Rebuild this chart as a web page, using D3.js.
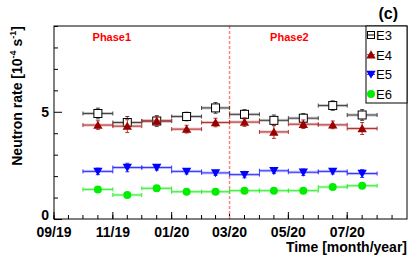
<!DOCTYPE html>
<html>
<head>
<meta charset="utf-8">
<script src="https://cdn.jsdelivr.net/npm/d3@7"></script>
<style>
  body { margin: 0; background: #fff; }
  text { font-family: "Liberation Sans", Arial, sans-serif; }
</style>
</head>
<body>
<svg id="chart" width="415" height="259"></svg>
<script>
// monthly bins, Oct 2019 .. Jul 2020 (bin start)
const months = ['2019-10', '2019-11', '2019-12', '2020-01', '2020-02',
                '2020-03', '2020-04', '2020-05', '2020-06', '2020-07'];

const e3 = [4.92, 4.50, 4.57, 4.78, 5.18, 4.88, 4.60, 4.70, 5.29, 4.85];
const e3Err = [0.25, 0.28, 0.25, 0.2, 0.25, 0.22, 0.25, 0.22, 0.22, 0.25];
const e4 = [4.38, 4.33, 4.57, 4.19, 4.50, 4.52, 4.06, 4.42, 4.39, 4.22];
const e4Err = [0.2, 0.3, 0.2, 0.18, 0.2, 0.2, 0.3, 0.2, 0.18, 0.28];
const e5 = [2.22, 2.40, 2.40, 2.22, 2.15, 2.07, 2.25, 2.18, 2.22, 2.12];
const e5Err = [0.15, 0.2, 0.12, 0.12, 0.12, 0.15, 0.12, 0.15, 0.12, 0.18];
const e6 = [1.38, 1.12, 1.43, 1.27, 1.27, 1.32, 1.32, 1.32, 1.49, 1.55];
const e6Err = [0.1, 0.12, 0.08, 0.08, 0.08, 0.08, 0.08, 0.08, 0.08, 0.1];

const xTickLabels = ['09/19', '11/19', '01/20', '03/20', '05/20', '07/20'];
const yTickLabels = [0, 5];
const phaseLabels = ['Phase1', 'Phase2'];
const phaseSplit = '2020-03';

const series = [
  { name: 'E3', values: e3, err: e3Err, color: '#000000', bar: '#444444', shape: 'square' },
  { name: 'E4', values: e4, err: e4Err, color: '#990000', bar: '#b33333', shape: 'up' },
  { name: 'E5', values: e5, err: e5Err, color: '#0000ff', bar: '#3333ff', shape: 'down' },
  { name: 'E6', values: e6, err: e6Err, color: '#00ee00', bar: '#33ee33', shape: 'circle' }
];

const margin = { top: 26, right: 8, bottom: 40, left: 54 };
const width = 415, height = 259;
const innerWidth = width - margin.left - margin.right;
const innerHeight = height - margin.top - margin.bottom;

const parseMonth = d3.utcParse('%Y-%m');
const fmt = d3.utcFormat('%m/%y');

const svg = d3.select('#chart');
const g = svg.append('g')
  .attr('transform', `translate(${margin.left},${margin.top})`);

const xScale = d3.scaleUtc()
  .domain([parseMonth('2019-09'), parseMonth('2020-09')])
  .range([0, innerWidth]);

const yScale = d3.scaleLinear()
  .domain([0, 9])
  .range([innerHeight, 0]);

// x ticks: labelled every 2 months, minor every half month
const majorX = xTickLabels.map(s => d3.utcParse('%m/%y')(s));
const minorX = [];
d3.utcMonths(parseMonth('2019-09'), parseMonth('2020-09')).forEach(m => {
  const next = d3.utcMonth.offset(m, 1);
  minorX.push(m, new Date((+m + +next) / 2));
});

const xAxisG = g.append('g').attr('transform', `translate(0,${innerHeight})`);
xAxisG.selectAll('line.minor').data(minorX).enter().append('line')
  .attr('x1', d => xScale(d)).attr('x2', d => xScale(d))
  .attr('y1', 0).attr('y2', -4)
  .attr('stroke', '#000').attr('stroke-width', 1);
xAxisG.selectAll('line.major').data(majorX).enter().append('line')
  .attr('x1', d => xScale(d)).attr('x2', d => xScale(d))
  .attr('y1', 0).attr('y2', -7)
  .attr('stroke', '#000').attr('stroke-width', 1);
xAxisG.selectAll('text').data(majorX).enter().append('text')
  .attr('x', d => xScale(d))
  .attr('y', 18)
  .attr('text-anchor', 'middle')
  .attr('font-size', 14)
  .attr('font-weight', 'bold')
  .text(d => fmt(d));

// y ticks
const yAxis = d3.axisLeft(yScale)
  .tickValues(d3.range(0, 10))
  .tickSize(-4)
  .tickFormat('');
const yAxisG = g.append('g').call(yAxis);
yAxisG.select('.domain').remove();
yAxisG.selectAll('.tick line')
  .attr('x2', d => yTickLabels.includes(d) ? 8 : 4);
g.selectAll('text.ylab').data(yTickLabels).enter().append('text')
  .attr('class', 'ylab')
  .attr('x', -5)
  .attr('y', d => yScale(d) + (d === 0 ? 1 : 5))
  .attr('text-anchor', 'end')
  .attr('font-size', 14)
  .attr('font-weight', 'bold')
  .text(d => d);

// phase divider
const splitX = xScale(parseMonth(phaseSplit));
g.append('line')
  .attr('x1', splitX).attr('x2', splitX)
  .attr('y1', 0).attr('y2', innerHeight)
  .attr('stroke', '#ff8080')
  .attr('stroke-width', 1.5)
  .attr('stroke-dasharray', '3,2');

g.selectAll('text.phase').data(phaseLabels).enter().append('text')
  .attr('class', 'phase')
  .attr('x', (d, i) => i === 0 ? xScale(parseMonth('2019-11')) - 1 : xScale(parseMonth('2020-05')) + 1)
  .attr('y', 15)
  .attr('text-anchor', 'middle')
  .attr('font-size', 11)
  .attr('font-weight', 'bold')
  .attr('fill', '#ff0000')
  .text(d => d);

// markers
const symbolFor = shape => {
  if (shape === 'up') return d3.symbol().type(d3.symbolTriangle).size(38)();
  if (shape === 'down') return d3.symbol().type(d3.symbolTriangle).size(38)();
  if (shape === 'circle') return d3.symbol().type(d3.symbolCircle).size(50)();
  return null;
};

const drawMarker = (sel, s, x, y) => {
  if (s.shape === 'square') {
    sel.append('rect')
      .attr('x', x - 4).attr('y', y - 4)
      .attr('width', 8).attr('height', 8)
      .attr('fill', '#fff')
      .attr('stroke', s.color)
      .attr('stroke-width', 1);
  } else {
    const rot = s.shape === 'down' ? ' rotate(180)' : '';
    sel.append('path')
      .attr('d', symbolFor(s.shape))
      .attr('transform', `translate(${x},${y + (s.shape === 'up' ? 1 : s.shape === 'down' ? -1 : 0)})${rot}`)
      .attr('fill', s.color);
  }
};

series.forEach(s => {
  const sg = g.append('g');
  months.forEach((m, i) => {
    const t0 = parseMonth(m);
    const t1 = d3.utcMonth.offset(t0, 1);
    const x0 = xScale(t0), x1 = xScale(t1);
    const xc = (x0 + x1) / 2;
    const y = yScale(s.values[i]);
    const yl = yScale(s.values[i] - s.err[i]);
    const yh = yScale(s.values[i] + s.err[i]);
    // faint band
    sg.append('line')
      .attr('x1', x0).attr('x2', x1).attr('y1', y).attr('y2', y)
      .attr('stroke', s.bar).attr('stroke-opacity', 0.3).attr('stroke-width', 3);
    sg.append('line')
      .attr('x1', x0).attr('x2', x1).attr('y1', y).attr('y2', y)
      .attr('stroke', s.bar).attr('stroke-width', 1);
    [x0, x1].forEach(xe => sg.append('line')
      .attr('x1', xe).attr('x2', xe).attr('y1', y - 2).attr('y2', y + 2)
      .attr('stroke', s.bar).attr('stroke-width', 1));
    sg.append('line')
      .attr('x1', xc).attr('x2', xc).attr('y1', yl).attr('y2', yh)
      .attr('stroke', s.bar).attr('stroke-width', 1);
    [yl, yh].forEach(ye => sg.append('line')
      .attr('x1', xc - 2).attr('x2', xc + 2).attr('y1', ye).attr('y2', ye)
      .attr('stroke', s.bar).attr('stroke-width', 1));
    drawMarker(sg, s, xc, y);
  });
});

// frame
g.append('rect')
  .attr('width', innerWidth).attr('height', innerHeight)
  .attr('fill', 'none').attr('stroke', '#000').attr('stroke-width', 1);

// legend
const lg = g.append('g').attr('transform', `translate(${innerWidth - 41},0)`);
lg.append('rect')
  .attr('width', 41).attr('height', 77)
  .attr('fill', '#fff').attr('stroke', '#000').attr('stroke-width', 1);
series.forEach((s, i) => {
  const yy = 9 + i * 19.7;
  if (s.shape === 'square') {
    lg.append('rect')
      .attr('x', 1.5).attr('y', yy - 3.5).attr('width', 7).attr('height', 7)
      .attr('fill', '#fff').attr('stroke', '#000');
    lg.append('line').attr('x1', 1.5).attr('x2', 8.5).attr('y1', yy).attr('y2', yy)
      .attr('stroke', '#000');
  } else {
    lg.append('line').attr('x1', 1).attr('x2', 9).attr('y1', yy).attr('y2', yy)
      .attr('stroke', s.bar);
    drawMarker(lg, s, 5, yy);
  }
  lg.append('text')
    .attr('x', 10).attr('y', yy + 5)
    .attr('font-size', 13)
    .text(s.name);
});

// titles
svg.append('text')
  .attr('x', 398).attr('y', 19)
  .attr('text-anchor', 'end')
  .attr('font-size', 16)
  .attr('font-weight', 'bold')
  .text('(c)');

svg.append('text')
  .attr('x', width - margin.right)
  .attr('y', 252)
  .attr('text-anchor', 'end')
  .attr('font-size', 14)
  .attr('font-weight', 'bold')
  .text('Time [month/year]');

const yt = svg.append('text')
  .attr('transform', `translate(22,${margin.top}) rotate(-90)`)
  .attr('text-anchor', 'end')
  .attr('font-size', 14)
  .attr('font-weight', 'bold');
yt.append('tspan').text('Neutron rate [10');
yt.append('tspan').attr('font-size', 9).attr('dy', -6).text('-4');
yt.append('tspan').attr('font-size', 14).attr('dy', 6).text(' s');
yt.append('tspan').attr('font-size', 9).attr('dy', -6).text('-1');
yt.append('tspan').attr('font-size', 14).attr('dy', 6).text(']');
</script>
</body>
</html>
